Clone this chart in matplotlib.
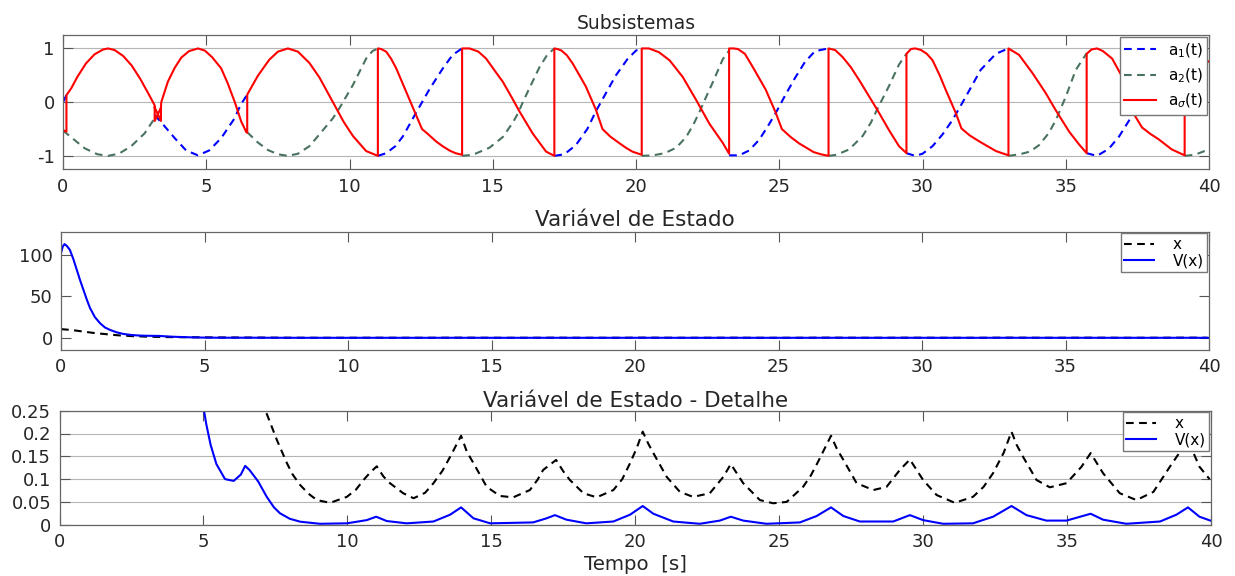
import matplotlib
matplotlib.use('Agg')
import matplotlib.pyplot as plt

nan = float('nan')

# --- Subsistemas: pontos (nan = trecho escondido pela curva vermelha)
a1_t = [0, 0.12, nan,
        3.2, 3.5, 3.9, 4.3, 4.71, 5.1, 5.52, 5.99, 6.2, 6.43, nan,
        10.99, 11.28, 11.6, 11.86, 12.32, 12.79, 13.26, 13.6, 13.93, nan,
        17.15, 17.5, 17.9, 18.3, 18.6, 18.9, 19.3, 19.7, 20.0, 20.2, nan,
        23.25, 23.6, 23.95, 24.3, 24.6, 24.88, 25.2, 25.55, 25.9, 26.25, 26.72, nan,
        29.44, 29.75, 30.0, 30.35, 30.7, 31.05, 31.51, 32.03, 32.56, 33.0, nan,
        35.73, 36.09, 36.5, 36.86, 37.2, 37.5, 37.9, 38.3, 38.7, 39.15]
a1_v = [0.0, 0.13, nan,
        -0.24, -0.42, -0.67, -0.9, -0.99, -0.9, -0.67, -0.3, -0.05, 0.14, nan,
        -1.0, -0.95, -0.82, -0.64, -0.2, 0.24, 0.63, 0.88, 1.0, nan,
        -1.0, -0.97, -0.8, -0.5, -0.17, 0.12, 0.5, 0.8, 0.96, 1.0, nan,
        -0.99, -0.99, -0.9, -0.7, -0.45, -0.2, 0.12, 0.45, 0.75, 0.95, 1.0, nan,
        -0.95, -1.0, -0.96, -0.82, -0.6, -0.33, 0.1, 0.6, 0.9, 1.0, nan,
        -0.95, -1.0, -0.87, -0.64, -0.35, -0.05, 0.35, 0.7, 0.93, 1.0]

a2_t = [0, 0.3, 0.76, 1.2, 1.57, 1.95, 2.38, 2.85, 3.2, nan,
        6.43, 6.8, 7.15, 7.5, 7.85, 8.2, 8.6, 8.95, 9.42, 9.65, 10.12, 10.58, 10.8, 10.99, nan,
        13.93, 14.3, 14.88, 15.35, 15.7, 15.88, 16.05, 16.28, 16.63, 16.9, 17.15, nan,
        20.2, 20.6, 21.0, 21.4, 21.75, 22.0, 22.2, 22.45, 22.68, 23.03, 23.25, nan,
        26.72, 27.0, 27.44, 27.91, 28.2, 28.43, 28.83, 29.18, 29.44, nan,
        33.0, 33.4, 33.75, 34.07, 34.4, 34.65, 35.0, 35.35, 35.73, nan,
        39.15, 39.5, 40]
a2_v = [-0.53, -0.66, -0.86, -0.97, -1.0, -0.96, -0.82, -0.58, -0.3, nan,
        -0.56, -0.75, -0.89, -0.97, -1.0, -0.96, -0.82, -0.6, -0.3, -0.11, 0.32, 0.81, 0.95, 1.0, nan,
        -1.0, -0.98, -0.85, -0.65, -0.38, -0.21, 0.0, 0.26, 0.65, 0.88, 1.0, nan,
        -1.0, -0.99, -0.95, -0.85, -0.65, -0.42, -0.2, 0.1, 0.37, 0.8, 0.96, nan,
        -1.0, -0.98, -0.88, -0.63, -0.38, -0.12, 0.3, 0.7, 0.9, nan,
        -1.0, -0.97, -0.92, -0.8, -0.58, -0.34, 0.1, 0.6, 0.91, nan,
        -1.0, -0.98, -0.88]

asig_t = [0, 0.12, 0.12, 0.29, 0.5, 0.8, 1.1, 1.4, 1.57, 1.8, 2.1, 2.4, 2.7, 3.0,
          3.2, 3.2, 3.42, 3.42, 3.2, nan,
          3.42, 3.43, 3.66, 3.9, 4.13, 4.4, 4.71, 4.95, 5.2, 5.52, 5.75, 5.99, 6.22, 6.4,
          6.43, 6.43, 6.8, 7.2, 7.5, 7.85, 8.2, 8.6, 8.95, 9.42, 9.8, 10.12, 10.58, 10.99,
          10.99, 11.1, 11.28, 11.45, 11.63, 11.98, 12.32, 12.53, 12.75, 13.02, 13.25, 13.49, 13.7, 13.93,
          13.93, 14.05, 14.19, 14.5, 14.77, 15.05, 15.35, 15.65, 15.93, 16.39, 16.86, 17.15,
          17.15, 17.25, 17.4, 17.59, 17.79, 18.25, 18.6, 18.83, 19.1, 19.41, 19.65, 19.87, 20.2,
          20.2, 20.3, 20.45, 20.8, 21.17, 21.63, 22.1, 22.56, 23.03, 23.25,
          23.25, 23.4, 23.55, 23.8, 24.07, 24.53, 24.88, 25.09, 25.4, 25.7, 26.2, 26.45, 26.72,
          26.72, 26.95, 27.21, 27.5, 27.79, 28.1, 28.43, 28.83, 29.18, 29.44,
          29.44, 29.6, 29.75, 29.95, 30.15, 30.35, 30.6, 30.81, 31.16, 31.36, 31.65, 31.98, 32.3, 32.56, 33.0,
          33.0, 33.37, 33.84, 34.3, 34.65, 35.12, 35.47, 35.73,
          35.73, 35.9, 36.09, 36.3, 36.62, 36.97, 37.2, 37.4, 37.66, 37.95, 38.24, 38.7, 39.15,
          39.15, 39.5, 40]
asig_v = [-0.52, -0.55, 0.13, 0.26, 0.47, 0.72, 0.89, 0.98, 1.0, 0.97, 0.86, 0.68, 0.43, 0.14,
          -0.06, -0.35, -0.1, -0.35, -0.1, nan,
          -0.1, 0.0, 0.38, 0.64, 0.83, 0.95, 1.0, 0.96, 0.84, 0.63, 0.35, 0.01, -0.36, -0.56,
          -0.57, 0.14, 0.49, 0.79, 0.94, 1.0, 0.94, 0.73, 0.46, 0.0, -0.37, -0.63, -0.91, -1.0,
          1.0, 0.99, 0.94, 0.81, 0.63, 0.19, -0.24, -0.5, -0.6, -0.73, -0.82, -0.9, -0.95, -0.98,
          1.0, 1.0, 1.0, 0.94, 0.81, 0.6, 0.38, 0.1, -0.17, -0.58, -0.92, -1.0,
          1.0, 0.99, 0.96, 0.87, 0.72, 0.29, -0.14, -0.5, -0.64, -0.76, -0.85, -0.92, -0.98,
          1.0, 1.0, 1.0, 0.93, 0.78, 0.47, 0.04, -0.4, -0.76, -0.96,
          1.0, 1.0, 0.99, 0.9, 0.66, 0.23, -0.2, -0.5, -0.65, -0.77, -0.93, -0.97, -1.0,
          1.0, 0.97, 0.84, 0.65, 0.41, 0.14, -0.15, -0.52, -0.82, -0.95,
          0.9, 0.99, 1.0, 0.97, 0.9, 0.78, 0.5, 0.23, -0.2, -0.49, -0.62, -0.73, -0.83, -0.91, -0.99,
          1.0, 0.88, 0.54, 0.17, -0.15, -0.55, -0.79, -0.95,
          0.9, 0.98, 1.0, 0.95, 0.81, 0.47, 0.1, -0.24, -0.47, -0.59, -0.69, -0.88, -0.99,
          1.0, 0.95, 0.75]

# --- Variavel de estado x e V(x)
x_t = [0, 0.4, 0.78, 1.2, 1.6, 2.0, 2.5, 3.0, 3.5, 4.0, 5.0, 6.0, 6.8,
       7.2, 7.55, 7.9, 8.1, 8.36, 8.65, 8.94, 9.4, 9.98, 10.3, 10.56, 10.8, 11.02, 11.25, 11.48, 11.94, 12.3,
       12.7, 12.99, 13.3, 13.57, 13.95, 14.15, 14.38, 14.84, 15.3, 15.76, 16.34, 16.6, 16.8, 17.25, 17.5, 17.73,
       18.2, 18.66, 19.24, 19.55, 19.82, 20.05, 20.26, 20.45, 20.63, 21.09, 21.55, 22.01, 22.59, 23.06,
       23.32, 23.75, 24.33, 24.79, 25.26, 25.83, 26.1, 26.35, 26.8, 27.0, 27.23, 27.69, 28.27,
       28.73, 29.19, 29.54, 30.0, 30.47, 31.1, 31.73, 32.1, 32.43, 32.8, 33.07, 33.25, 33.47, 33.94,
       34.4, 34.98, 35.5, 35.82, 36.25, 36.83, 37.41, 38.0, 38.57, 38.97, 39.2,
       39.6, 39.95]
x_v = [10.5, 9.3, 7.5, 5.6, 4.3, 3.0, 2.0, 1.4, 1.0, 0.8, 0.55, 0.38, 0.29,
       0.243, 0.186, 0.135, 0.11, 0.087, 0.068, 0.054, 0.048, 0.061, 0.077, 0.098, 0.115, 0.128, 0.106, 0.091, 0.069, 0.058,
       0.07, 0.091, 0.118, 0.149, 0.195, 0.16, 0.135, 0.083, 0.063, 0.06, 0.076, 0.098, 0.12, 0.142, 0.117, 0.098,
       0.069, 0.06, 0.076, 0.1, 0.135, 0.168, 0.204, 0.178, 0.157, 0.105, 0.072, 0.061, 0.069, 0.105,
       0.133, 0.091, 0.054, 0.047, 0.05, 0.083, 0.108, 0.138, 0.195, 0.167, 0.142, 0.091, 0.076,
       0.083, 0.12, 0.143, 0.098, 0.065, 0.048, 0.061, 0.083, 0.113, 0.158, 0.204, 0.175, 0.149, 0.098,
       0.082, 0.091, 0.127, 0.157, 0.113, 0.069, 0.054, 0.072, 0.127, 0.164, 0.185,
       0.127, 0.1]

V_t = [0, 0.06, 0.12, 0.2, 0.31, 0.43, 0.55, 0.66, 0.78, 0.9, 1.01, 1.18, 1.36, 1.53, 1.71,
       1.95, 2.17, 2.45, 2.75, 3.1, 3.4, 3.65, 3.9, 4.5,
       4.9, 5.02, 5.1, 5.25, 5.45, 5.75, 6.05, 6.3, 6.45, 6.6, 6.9, 7.2, 7.45, 7.66, 8.0, 8.36, 9.05,
       9.98, 10.67, 11.0, 11.37, 12.06, 12.99, 13.57, 13.95, 14.38, 14.96, 16.45,
       16.92, 17.21, 17.61, 18.3, 19.24, 19.82, 20.26, 20.63, 21.32, 22.24, 22.94,
       23.32, 23.75, 24.56, 25.72, 26.3, 26.8, 27.23, 27.8, 28.96, 29.54, 30.0,
       30.7, 31.73, 32.43, 33.07, 33.59, 34.28, 34.98, 35.82, 36.25, 37.06, 38.23,
       38.8, 39.2, 39.6, 39.98]
V_v = [102, 110, 113, 111, 106, 95, 82, 70, 58, 46, 36, 25, 17.6, 12.5, 9.5,
       6.5, 4.7, 3.4, 2.7, 2.4, 2.3, 1.8, 1.3, 0.6,
       0.3, 0.25, 0.22, 0.175, 0.133, 0.1, 0.096, 0.11, 0.129, 0.12, 0.095, 0.061, 0.038, 0.025, 0.013, 0.0066, 0.002,
       0.003, 0.01, 0.0175, 0.008, 0.003, 0.007, 0.022, 0.038, 0.014, 0.003, 0.005,
       0.014, 0.021, 0.011, 0.003, 0.007, 0.022, 0.041, 0.024, 0.007, 0.002, 0.009,
       0.0175, 0.009, 0.002, 0.005, 0.019, 0.038, 0.019, 0.007, 0.007, 0.021, 0.01,
       0.002, 0.003, 0.0175, 0.041, 0.021, 0.009, 0.009, 0.024, 0.011, 0.002, 0.007,
       0.022, 0.038, 0.0175, 0.009]

xticks = [0, 5, 10, 15, 20, 25, 30, 35, 40]

plt.rcParams['font.family'] = 'DejaVu Sans'
plt.rcParams['axes.unicode_minus'] = False

verde = '#4a735f'
cinza = '#262626'


def estilo(ax):
    ax.set_xlim(0, 40)
    ax.set_xticks(xticks)
    ax.tick_params(direction='in', length=7, width=0.8, top=True, right=True,
                   labelsize=13, labelcolor=cinza, color='#555555', pad=6)
    for s in ax.spines.values():
        s.set_color('#666666')
        s.set_linewidth(0.9)


def legenda(ax, lh, pad):
    ax.legend(loc='upper right', fontsize=11, fancybox=False, framealpha=1,
              edgecolor='#777777', borderaxespad=0.1, handlelength=lh,
              handletextpad=pad, labelspacing=0.1, borderpad=0.25)


fig = plt.figure(figsize=(12.35, 5.76), dpi=100)

# Subsistemas
ax1 = fig.add_axes([63 / 1235, 1 - 169.3 / 576, 1146 / 1235, 134.3 / 576])
ax1.plot(a1_t, a1_v, color='blue', lw=1.5, dashes=(3.7, 2.6), label='a$_1$(t)')
ax1.plot(a2_t, a2_v, color=verde, lw=1.5, dashes=(3.7, 2.6), label='a$_2$(t)')
ax1.plot(asig_t, asig_v, color='red', lw=1.5, label=r'a$_\sigma$(t)')
ax1.set_ylim(-1.25, 1.25)
ax1.set_yticks([-1, 0, 1])
ax1.yaxis.grid(True, color='#b5b5b5', lw=0.8)
ax1.set_axisbelow(True)
estilo(ax1)
ax1.set_title('Subsistemas', fontsize=13.5, color=cinza, pad=4)
ax1.legend(loc='upper right', fontsize=11, fancybox=False, framealpha=1,
           edgecolor='#777777', borderaxespad=0.1, handlelength=2.1,
           handletextpad=0.75, labelspacing=0.45, borderpad=0.3)

# Variavel de Estado
ax2 = fig.add_axes([61 / 1235, 1 - 350 / 576, 1148 / 1235, 118.3 / 576])
ax2.plot(x_t, x_v, color='black', lw=1.5, dashes=(3.7, 2.6), label='x')
ax2.plot(V_t, V_v, color='blue', lw=1.5, label='V(x)')
ax2.set_ylim(-14.7, 128)
ax2.set_yticks([0, 50, 100])
estilo(ax2)
ax2.set_title('Variável de Estado', fontsize=15.5, color=cinza, pad=4)
legenda(ax2, 1.95, 1.2)

# Detalhe
ax3 = fig.add_axes([59.5 / 1235, 1 - 524.7 / 576, 1151.5 / 1235, 114 / 576])
ax3.plot(x_t, x_v, color='black', lw=1.5, dashes=(3.7, 2.6), label='x')
ax3.plot(V_t, V_v, color='blue', lw=1.5, label='V(x)')
ax3.set_ylim(0, 0.25)
ax3.set_yticks([0, 0.05, 0.1, 0.15, 0.2, 0.25])
ax3.set_yticklabels(['0', '0.05', '0.1', '0.15', '0.2', '0.25'])
ax3.yaxis.grid(True, color='#b5b5b5', lw=0.8)
ax3.set_axisbelow(True)
estilo(ax3)
ax3.set_title('Variável de Estado - Detalhe', fontsize=15.5, color=cinza, pad=3)
ax3.set_xlabel('Tempo  [s]', fontsize=14.2, color=cinza, labelpad=3)
legenda(ax3, 1.95, 1.2)

fig.savefig('out.png', dpi=100)
